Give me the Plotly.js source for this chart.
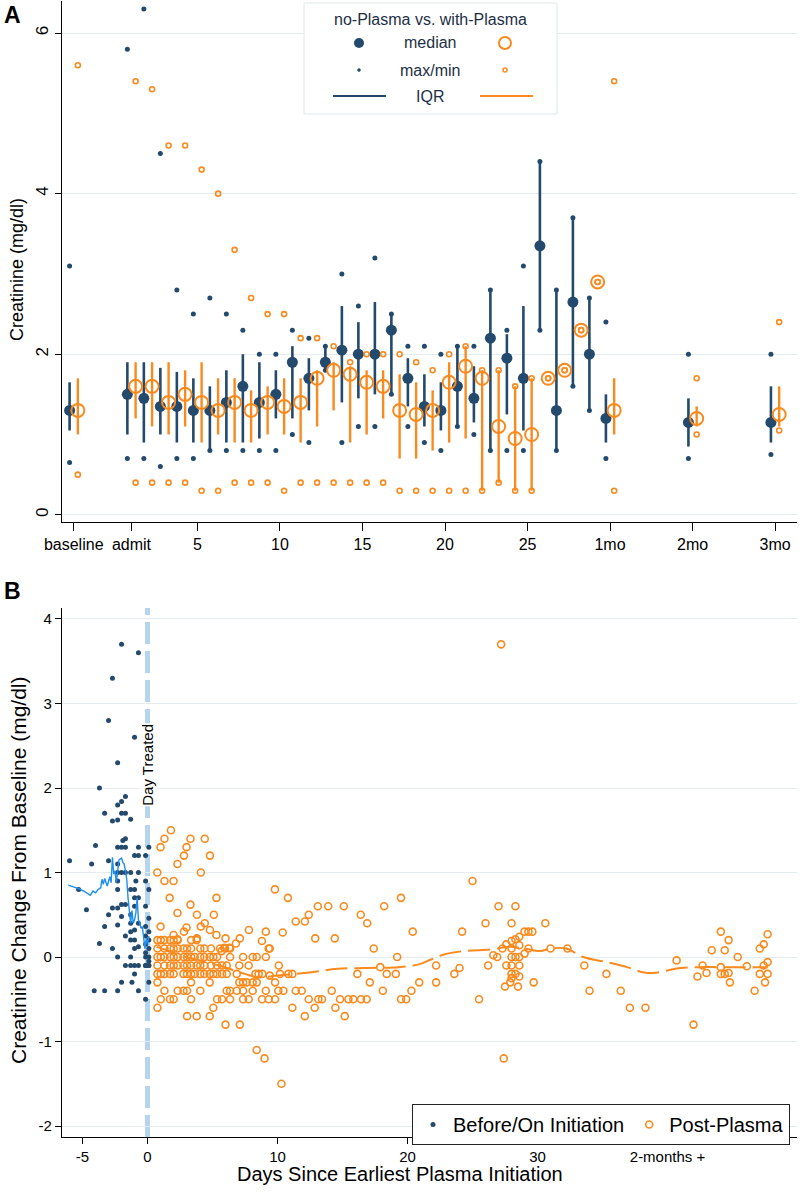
<!DOCTYPE html>
<html>
<head>
<meta charset="utf-8">
<script src="https://cdn.plot.ly/plotly-3.0.1.min.js"></script>
<style>
  body { margin: 0; background: #fff; }
  #chart { width: 800px; height: 1192px; }
</style>
</head>
<body>
<div id="chart"></div>
<script>
// ---- Panel A: creatinine by day, no-Plasma vs with-Plasma ----
var aDays = [-2.5, 1, 2, 3, 4, 5, 6, 7, 8, 9, 10, 11, 12, 13, 14, 15, 16, 17, 18, 19, 20,
             21, 22, 23, 24, 25, 26, 27, 28, 29, 30, 35, 40];
var aTickVals = [-2.5, 1, 5, 10, 15, 20, 25, 30, 35, 40];
var aTickText = ["baseline", "admit", "5", "10", "15", "20", "25", "1mo", "2mo", "3mo"];

// no-Plasma (navy)
var bMed = [1.3, 1.5, 1.45, 1.35, 1.35, 1.3, 1.3, 1.4, 1.6, 1.4, 1.5, 1.9, 1.7, 1.9, 2.05, 2.0, 2.0,
            2.3, 1.7, 1.35, 1.3, 1.6, 1.45, 2.2, 1.95, 1.7, 3.35, 1.3, 2.65, 2.0, 1.2, 1.15, 1.15];
var bQ1 = [1.05, 1.0, 0.9, 1.0, 0.9, 0.9, 0.8, 0.9, 0.9, 0.95, 1.2, 1.2, 1.3, 1.8, 1.4, 1.45, 1.5,
           1.5, 1.35, 1.1, 1.05, 1.1, 1.15, 0.8, 1.25, 1.05, 2.3, 0.8, 1.6, 1.3, 0.9, 0.85, 0.9];
var bQ3 = [1.65, 1.9, 1.9, 1.83, 1.78, 1.7, 1.6, 1.8, 2.0, 1.9, 1.8, 2.1, 1.95, 2.1, 2.6, 2.4, 2.65,
           2.5, 1.95, 1.75, 1.65, 2.1, 1.85, 2.8, 2.25, 2.6, 4.4, 2.8, 3.7, 2.7, 1.5, 1.45, 1.6];
var bMax = [3.1, 5.8, 6.3, 4.5, 2.8, 2.5, 2.7, 2.5, 2.3, 2.0, 2.0, 2.3, 2.2, 2.1, 3.0, 2.6, 3.2,
            2.5, 2.1, 2.1, 2.0, 2.1, 2.1, 2.8, 2.3, 3.1, 4.4, 2.8, 3.7, 2.7, 2.4, 2.0, 2.0];
var bMin = [0.65, 0.7, 0.7, 0.6, 0.7, 0.7, 0.8, 0.8, 0.8, 0.8, 0.8, 1.0, 0.9, 1.8, 0.9, 1.1, 1.1,
            1.5, 1.1, 0.9, 0.8, 1.1, 1.0, 0.8, 0.8, 0.8, 2.3, 0.8, 1.6, 1.3, 0.7, 0.7, 0.75];

// with-Plasma (orange)
var oMed = [1.3, 1.6, 1.6, 1.4, 1.5, 1.4, 1.3, 1.4, 1.3, 1.4, 1.35, 1.4, 1.7, 1.8, 1.75, 1.65, 1.6,
            1.3, 1.25, 1.3, 1.65, 1.85, 1.7, 1.1, 0.95, 1.0, 1.7, 1.8, 2.3, 2.9, 1.3, 1.2, 1.25];
var oQ1 = [1.0, 1.2, 1.1, 1.0, 1.1, 0.9, 1.0, 0.9, 0.9, 1.0, 1.0, 0.9, 1.1, 1.3, 0.9, 1.0, 1.2,
           0.7, 0.7, 0.8, 0.9, 0.95, 0.3, 0.4, 0.3, 0.3, 1.7, 1.8, 2.3, 2.9, 1.0, 1.1, 1.1];
var oQ3 = [1.7, 1.9, 1.9, 1.9, 1.8, 1.9, 1.7, 1.7, 1.55, 1.6, 1.7, 1.7, 1.8, 1.9, 1.85, 1.8, 1.8,
           1.75, 1.65, 1.55, 1.9, 2.1, 1.8, 1.8, 1.6, 1.7, 1.7, 1.8, 2.3, 2.9, 1.7, 1.35, 1.6];
var oMax = [5.6, 5.4, 5.3, 4.6, 4.6, 4.3, 4.0, 3.3, 2.7, 2.5, 2.5, 2.2, 2.2, 2.1, 1.9, 2.0, 2.0,
            2.0, 1.9, 1.8, 2.0, 2.1, 1.8, 1.8, 1.6, 1.7, 1.7, 1.8, 2.3, 2.9, 5.4, 1.7, 2.4];
var oMin = [0.5, 0.4, 0.4, 0.4, 0.4, 0.3, 0.3, 0.4, 0.4, 0.4, 0.3, 0.4, 0.4, 0.4, 0.4, 0.4, 0.4,
            0.3, 0.3, 0.3, 0.3, 0.3, 0.3, 0.4, 0.3, 0.3, 1.7, 1.8, 2.3, 2.9, 0.3, 1.0, 1.05];

// ---- Panel B: change from baseline by days since plasma ----
var preDay = [-6.0, -5.3, -4.7, -4.3, -4.1, -4.0, -3.7, -3.7, -3.3, -3.3, -3.3, -3.0, -3.0, -3.0,
              -2.7, -2.7, -2.7, -2.7, -2.3, -2.3, -2.3, -2.3, -2.3, -2.3, -2.3, -2.3, -2.3, -2.3,
              -2.3, -2.3, -2.0, -2.0, -2.0, -1.9, -2.0, -2.0, -2.0, -2.0, -2.0, -1.7, -1.7, -1.7,
              -1.7, -1.7, -1.7, -1.7, -1.7, -1.3, -1.3, -1.3, -1.3, -1.3, -1.3, -1.3, -1.3, -1.3,
              -1.2, -1.0, -1.0, -1.0, -1.0, -1.0, -1.0, -1.0, -1.0, -1.0, -1.0, -0.7, -0.7, -0.7,
              -0.7, -0.7, -0.7, -0.7, -0.7, -0.7, -0.9, -0.15, 0.1, -0.15, 0.1, -0.15, 0.1, -0.15,
              0.1, -0.15, 0.1, -0.15, 0.1, -0.15, 0.1, -0.15, 0.1, -0.15, 0.1, -0.15, 0.1, -0.15, 0.1];
var preChg = [1.14, 0.8, 0.56, 1.1, -0.4, 1.32, 2.0, 0.16, 1.7, 0.36, -0.4, 2.8, 1.14, 0.5,
              3.3, 1.61, 0.58, 0.1, 2.3, 1.8, 1.62, 1.3, 1.1, 1.0, 0.9, 0.8, 0.58, 0.38,
              0.0, -0.4, 3.7, 1.84, 1.7, 1.38, 1.3, 1.0, 0.62, 0.48, -0.3, 1.9, 1.7, 1.4,
              1.3, 1.0, 0.62, 0.25, -0.1, 1.63, 1.0, 0.8, 0.5, 0.4, 0.3, 0.2, 0.0, -0.1,
              -0.3, 2.6, 1.2, 0.8, 0.7, 0.6, 0.32, 0.2, 0.1, -0.1, -0.2, 3.6, 1.3, 1.2,
              1.0, 0.7, 0.4, 0.12, -0.1, -0.4, 0.9, 0.9, 1.3, 1.2, 0.8, 0.6, 0.46, 0.36,
              0.3, 0.25, 0.2, 0.15, 0.1, 0.05, 0.0, 0.0, -0.05, -0.1, -0.1, -0.1, -0.3, -0.5, -0.1];

var postDay = [1.8, 1.3, 1.0, 3.3, 4.4, 3.0, 2.8, 2.3, 4.8, 4.1, 0.75, 1.3, 2.0, 1.7, 5.3, 3.3, 2.3,
               3.8, 5.1, 1.0, 4.4, 4.1, 2.8, 3.0, 4.8, 5.3, 2.0, 2.3, 3.8, 6.0, 7.1, 6.8, 6.3, 5.9,
               5.7, 7.8, 8.8, 9.1, 9.4, 10.4, 11.4, 12.1, 12.4, 12.9, 14.4, 9.8, 10.8, 13.1, 13.9,
               15.1, 16.4, 16.9, 17.4, 18.2, 19.5, 20.4, 19.2,
               // row 0.2
               0.76, 1.02, 1.3, 1.73, 2.01, 2.32, 3.35, 3.78,
               // row 0.1
               0.76, 1.3, 1.73, 2.01, 2.32, 2.76, 3.04, 3.35, 4.06, 4.37, 4.88, 5.58, 5.96, 6.35, 9.32,
               // row 0
               0.76, 1.02, 1.3, 1.73, 2.01, 2.32, 2.76, 3.04, 3.35, 3.63, 4.06, 4.37, 4.78, 5.06,
               5.35, 6.35, 7.35, 8.09, 8.4, 9.1,
               // row -0.1
               0.76, 1.3, 1.73, 2.01, 2.32, 2.76, 3.04, 3.35, 3.78, 4.06, 4.37, 4.88, 5.35, 5.73,
               6.09, 7.06, 7.78, 10.1,
               // row -0.2
               0.76, 1.02, 1.3, 1.73, 2.01, 2.76, 3.04, 3.35, 3.63, 4.06, 4.37, 4.78, 5.06, 5.35,
               5.73, 6.09, 6.86, 8.3, 8.55, 8.83, 9.4, 10.19, 10.83, 11.14, 16.14, 18.4, 19.1,
               // row -0.3
               0.76, 3.35, 4.78, 7.06, 7.35, 7.63, 8.09, 8.4, 9.81, 17.1,
               // row -0.4
               1.3, 2.32, 2.76, 3.04, 4.06, 6.09, 6.35, 6.86, 7.35, 8.09, 9.1, 10.06, 10.45, 11.4,
               11.86, 14.17, 18.1,
               // row -0.5
               1.02, 1.73, 2.01, 3.35, 5.35, 5.73, 6.35, 7.35, 7.78, 8.81, 9.32, 9.81, 12.4, 13.14,
               13.42, 14.81, 15.45, 15.83, 16.42, 16.86,
               // rows -0.6, -0.7, -0.8 and outliers
               0.76, 5.06, 11.14, 12.86, 14.45, 3.04, 3.78, 4.78, 12.1, 15.17, 6.0, 7.1,
               8.4, 9.0, 10.3,
               // days 17-32
               17.9, 22.2, 23.6, 24.0, 20.3, 20.9, 22.2, 19.5, 19.9,
               25.0, 27.2, 27.0, 28.3, 26.0, 24.2, 28.0, 30.6, 29.0, 29.3, 29.6,
               27.3, 27.6, 28.0, 28.3, 28.6, 28.0, 28.6, 29.3, 26.6, 26.9, 28.0, 28.3, 28.6, 29.0,
               31.0, 32.3, 26.2, 27.6, 28.0, 28.6, 28.0, 28.3, 28.6, 28.0, 27.9, 28.5, 27.5, 29.7,
               25.5, 27.4,
               // two months +
               43.4, 44.4, 44.1, 44.7, 45.4, 47.7, 47.4, 47.1, 40.7, 42.7, 44.1, 46.1, 33.6, 35.3,
               42.3, 43.0, 44.1, 44.4, 44.7, 47.1, 47.7, 47.4, 47.7, 46.7, 47.5, 44.8, 42.0, 37.1,
               38.3, 34.0, 36.4];
var postChg = [1.5, 1.4, 1.3, 1.4, 1.4, 1.3, 1.2, 1.1, 1.2, 1.0, 1.0, 0.9, 0.9, 0.7, 0.7, 0.62, 0.52,
               0.5, 0.5, 0.36, 0.4, 0.36, 0.3, 0.35, 0.32, 0.26, 0.26, 0.21, 0.22, 0.22, 0.22, 0.16,
               0.11, 0.11, 0.07, 0.32, 0.19, 0.3, 0.1, 0.29, 0.42, 0.42, 0.5, 0.22, 0.22, 0.8, 0.7,
               0.6, 0.6, 0.6, 0.5, 0.4, 0.1, 0.6, 0.7, 0.3, 0.0,
               0.2, 0.2, 0.2, 0.2, 0.2, 0.2, 0.2, 0.2,
               0.1, 0.1, 0.1, 0.1, 0.1, 0.1, 0.1, 0.1, 0.1, 0.1, 0.1, 0.1, 0.1, 0.1, 0.1,
               0, 0, 0, 0, 0, 0, 0, 0, 0, 0, 0, 0, 0, 0, 0, 0, 0, 0, 0, 0,
               -0.1, -0.1, -0.1, -0.1, -0.1, -0.1, -0.1, -0.1, -0.1, -0.1, -0.1, -0.1, -0.1, -0.1,
               -0.1, -0.1, -0.1, -0.1,
               -0.2, -0.2, -0.2, -0.2, -0.2, -0.2, -0.2, -0.2, -0.2, -0.2, -0.2, -0.2, -0.2, -0.2,
               -0.2, -0.2, -0.2, -0.2, -0.2, -0.2, -0.22, -0.2, -0.2, -0.2, -0.2, -0.2, -0.2,
               -0.3, -0.3, -0.3, -0.3, -0.3, -0.3, -0.3, -0.3, -0.3, -0.3,
               -0.4, -0.4, -0.4, -0.4, -0.4, -0.4, -0.4, -0.4, -0.4, -0.4, -0.4, -0.4, -0.4, -0.4,
               -0.4, -0.4, -0.4,
               -0.5, -0.5, -0.5, -0.5, -0.5, -0.5, -0.5, -0.5, -0.5, -0.5, -0.5, -0.5, -0.5, -0.5,
               -0.5, -0.5, -0.5, -0.5, -0.5, -0.5,
               -0.6, -0.6, -0.6, -0.6, -0.6, -0.7, -0.7, -0.7, -0.7, -0.7, -0.8, -0.8,
               -1.1, -1.2, -1.5,
               -0.12, -0.1, -0.2, -0.13, -0.4, -0.3, -0.3, -0.5, -0.5,
               0.9, 3.7, 0.6, 0.6, 0.4, 0.3, 0.4, 0.4, 0.3, 0.3, 0.3,
               0.1, 0.15, 0.19, 0.21, 0.24, 0.1, 0.14, 0.1, 0.02, 0.0, 0.0, 0.0, 0.0, 0.04,
               0.1, 0.1, -0.1, -0.1, -0.1, -0.1, -0.2, -0.2, -0.23, -0.25, -0.3, -0.35, -0.35, -0.3,
               -0.5, -1.2,
               0.08, 0.08, 0.3, 0.2, 0.0, 0.27, 0.15, 0.1, -0.04, -0.1, -0.12, -0.11, -0.1, -0.2,
               -0.23, -0.19, -0.2, -0.2, -0.19, -0.2, -0.2, -0.1, -0.06, -0.4, -0.3, -0.3, -0.8, -0.6,
               -0.6, -0.4, -0.4];

// running means
var preLineDay = [-6.1, -5.3, -4.9, -4.4, -4.2, -4.0, -3.8, -3.6, -3.5, -3.4, -3.3, -3.1, -2.9, -2.8,
                  -2.7, -2.6, -2.5, -2.4, -2.2, -2.0, -1.9, -1.8, -1.7, -1.6, -1.5, -1.4, -1.3, -1.2,
                  -1.1, -1.0, -0.9, -0.8, -0.7, -0.6, -0.5, -0.4, -0.3, -0.2, -0.1, 0.0, 0.1];
var preLineChg = [0.85, 0.81, 0.78, 0.73, 0.78, 0.76, 0.8, 0.82, 0.92, 0.86, 0.93, 0.84, 0.95, 0.88,
                  1.18, 0.98, 1.02, 0.88, 1.15, 1.17, 1.12, 1.1, 1.02, 0.92, 0.7, 0.55, 0.4, 0.55,
                  0.4, 0.44, 0.52, 0.7, 0.44, 0.4, 0.34, 0.36, 0.2, 0.1, 0.22, 0.15, 0.25];
var postLineDay = [0.7, 1.5, 2.5, 3.5, 4.5, 5.5, 6.5, 7.5, 8.5, 10, 12.6, 14.6, 16.7, 19.3, 20.8, 21.8,
                   22.8, 24.3, 26.4, 27.9, 29.0, 30.2, 31.0, 32.2, 33.5, 35.3, 36.9, 38.1, 38.9, 41.0,
                   42.5, 43.8, 45.6, 47.7];
var postLineChg = [0.12, 0.08, 0.02, -0.02, -0.06, -0.1, -0.15, -0.2, -0.24, -0.22, -0.18, -0.14, -0.13,
                   -0.12, -0.09, -0.03, 0.03, 0.07, 0.09, 0.12, 0.1, 0.07, 0.1, 0.1, 0.0, -0.06, -0.12,
                   -0.18, -0.19, -0.13, -0.12, -0.12, -0.12, -0.12];

var bTickVals = [-5, 0, 10, 20, 30, 40];
var bTickText = ["-5", "0", "10", "20", "30", "2-months +"];
var bYTickVals = [-2, -1, 0, 1, 2, 3, 4];
var bYTickText = ["-2", "-1", "0", "1", "2", "3", "4"];

var navy = "#234a6d";
var orange = "#fa8a1e";
var grid = "#e3ecf1";
var W = 800, H = 1192;
function px(x) { return x / W; }
function py(y) { return 1 - y / H; }

function shift(arr, d) { return arr.map(function (v) { return v + d; }); }
function diff(a, b) { return a.map(function (v, i) { return v - b[i]; }); }

var traces = [
  // no-Plasma median + IQR
  {x: shift(aDays, -0.25), y: bMed, type: "scatter", mode: "markers", xaxis: "x", yaxis: "y",
   showlegend: false, hoverinfo: "skip",
   marker: {color: navy, size: 11},
   error_y: {type: "data", symmetric: false, array: diff(bQ3, bMed), arrayminus: diff(bMed, bQ1),
             width: 0, thickness: 2.6, color: navy}},
  {x: shift(aDays, -0.25).concat(shift(aDays, -0.25)), y: bMax.concat(bMin), type: "scatter",
   mode: "markers", xaxis: "x", yaxis: "y", showlegend: false, hoverinfo: "skip",
   marker: {color: navy, size: 5}},
  // with-Plasma median + IQR
  {x: shift(aDays, 0.25), y: oMed, type: "scatter", mode: "markers", xaxis: "x", yaxis: "y",
   showlegend: false, hoverinfo: "skip",
   marker: {symbol: "circle-open", color: orange, size: 13, line: {width: 2, color: orange}},
   error_y: {type: "data", symmetric: false, array: diff(oQ3, oMed), arrayminus: diff(oMed, oQ1),
             width: 0, thickness: 2.4, color: orange}},
  {x: shift(aDays, 0.25).concat(shift(aDays, 0.25)), y: oMax.concat(oMin), type: "scatter",
   mode: "markers", xaxis: "x", yaxis: "y", showlegend: false, hoverinfo: "skip",
   marker: {symbol: "circle-open", color: orange, size: 5, line: {width: 1.6, color: orange}}},

  // panel B
  {x: preDay, y: preChg, type: "scatter", mode: "markers", xaxis: "x2", yaxis: "y2",
   name: "Before/On Initiation", marker: {color: navy, size: 5}},
  {x: postDay, y: postChg, type: "scatter", mode: "markers", xaxis: "x2", yaxis: "y2",
   name: "Post-Plasma",
   marker: {symbol: "circle-open", color: orange, size: 7, line: {width: 1.6, color: orange}}},
  {x: preLineDay, y: preLineChg, type: "scatter", mode: "lines", xaxis: "x2", yaxis: "y2",
   showlegend: false, line: {color: "#1f8ef1", width: 1.4}},
  {x: postLineDay, y: postLineChg, type: "scatter", mode: "lines", xaxis: "x2", yaxis: "y2",
   showlegend: false, line: {color: orange, width: 2, dash: "22px,7px", shape: "spline"}}
];

var font = "Liberation Sans, Arial, sans-serif";
var ink = "#1e2f45";

// panel A legend (drawn in pixel-space of the page)
var legY = [43, 70, 96];
var shapes = [
  {type: "rect", xref: "paper", yref: "paper", x0: px(304), x1: px(557), y0: py(114), y1: py(3),
   line: {color: "#dfe8ee", width: 1}, fillcolor: "#fff", layer: "above"},
  {type: "circle", xref: "paper", yref: "paper", x0: px(354), x1: px(364), y0: py(legY[0] + 5),
   y1: py(legY[0] - 5), fillcolor: navy, line: {color: navy, width: 0}, layer: "above"},
  {type: "circle", xref: "paper", yref: "paper", x0: px(499), x1: px(511), y0: py(legY[0] + 6),
   y1: py(legY[0] - 6), line: {color: orange, width: 2}, layer: "above"},
  {type: "circle", xref: "paper", yref: "paper", x0: px(357.5), x1: px(360.5), y0: py(legY[1] + 1.5),
   y1: py(legY[1] - 1.5), fillcolor: navy, line: {color: navy, width: 0.5}, layer: "above"},
  {type: "circle", xref: "paper", yref: "paper", x0: px(503), x1: px(507), y0: py(legY[1] + 2),
   y1: py(legY[1] - 2), line: {color: orange, width: 1.5}, layer: "above"},
  {type: "line", xref: "paper", yref: "paper", x0: px(333), x1: px(386), y0: py(legY[2]),
   y1: py(legY[2]), line: {color: navy, width: 2}, layer: "above"},
  {type: "line", xref: "paper", yref: "paper", x0: px(480), x1: px(533), y0: py(legY[2]),
   y1: py(legY[2]), line: {color: orange, width: 2}, layer: "above"},
  // day treated reference line
  {type: "line", xref: "x2", yref: "y2", x0: 0, x1: 0, y0: -2.13, y1: 4.13,
   line: {color: "#b5d5ee", width: 5, dash: "22px,7px"}, layer: "below"}
];

function note(text, x, y, size, extra) {
  return Object.assign({text: text, xref: "paper", yref: "paper", x: px(x), y: py(y),
    xanchor: "center", yanchor: "middle", showarrow: false,
    font: {size: size, color: "#000"}}, extra || {});
}

var annotations = [
  note("<b>A</b>", 2, 15, 23, {xanchor: "left"}),
  note("<b>B</b>", 2, 591, 23, {xanchor: "left"}),
  note("no-Plasma vs. with-Plasma", 430, 19, 16, {font: {size: 16, color: ink}}),
  note("median", 430, legY[0], 16, {font: {size: 16, color: ink}}),
  note("max/min", 430, legY[1], 16, {font: {size: 16, color: ink}}),
  note("IQR", 430, legY[2], 16, {font: {size: 16, color: ink}}),
  note("Creatinine (mg/dl)", 17, 270, 18, {textangle: -90}),
  note("Creatinine Change From Baseline (mg/dl)", 18, 870, 21, {textangle: -90}),
  note("Days Since Earliest Plasma Initiation", 400, 1174, 20,
       {font: {size: 20, color: "#000", family: "Liberation Sans Narrow, Arial Narrow, Liberation Sans"}}),
  {text: "Day Treated", xref: "x2", yref: "y2", x: 0, y: 2.27, xanchor: "center", yanchor: "middle",
   textangle: -90, showarrow: false, bgcolor: "#fff", borderpad: 0, font: {size: 15, color: "#000"}}
];

var axisCommon = {ticks: "outside", ticklen: 6, tickcolor: "#000", tickwidth: 1,
                  showline: true, linecolor: "#000", linewidth: 1.2, zeroline: false,
                  tickfont: {size: 15, color: "#000"}};

var layout = {
  width: W, height: H,
  margin: {l: 0, r: 0, t: 0, b: 0},
  paper_bgcolor: "#fff", plot_bgcolor: "#fff",
  font: {family: font, color: "#000"},
  showlegend: true,
  legend: {orientation: "h", x: px(412), y: py(1104), xanchor: "left", yanchor: "top",
           bordercolor: "#222", borderwidth: 1, bgcolor: "#fff", font: {size: 20, color: "#000"}},
  xaxis: Object.assign({}, axisCommon, {domain: [px(62), px(797)], range: [-3.21, 41.33],
          anchor: "y", tickvals: aTickVals, ticktext: aTickText, showgrid: false, ticklen: 8,
          tickfont: {size: 16, color: "#000"}}),
  yaxis: Object.assign({}, axisCommon, {domain: [py(522), py(1)], range: [-0.09, 6.4], anchor: "x",
          tickvals: [0, 2, 4, 6], tickangle: -90, showgrid: true, gridcolor: grid,
          tickfont: {size: 17, color: "#000"}}),
  xaxis2: Object.assign({}, axisCommon, {domain: [px(62), px(797)], range: [-6.58, 49.96],
          anchor: "y2", tickvals: bTickVals, ticktext: bTickText, showgrid: false}),
  yaxis2: Object.assign({}, axisCommon, {domain: [py(1137), py(608)], range: [-2.13, 4.13],
          anchor: "x2", tickvals: bYTickVals, ticktext: bYTickText, showgrid: true, gridcolor: grid}),
  shapes: shapes,
  annotations: annotations
};

Plotly.newPlot("chart", traces, layout, {staticPlot: true});
</script>
</body>
</html>
